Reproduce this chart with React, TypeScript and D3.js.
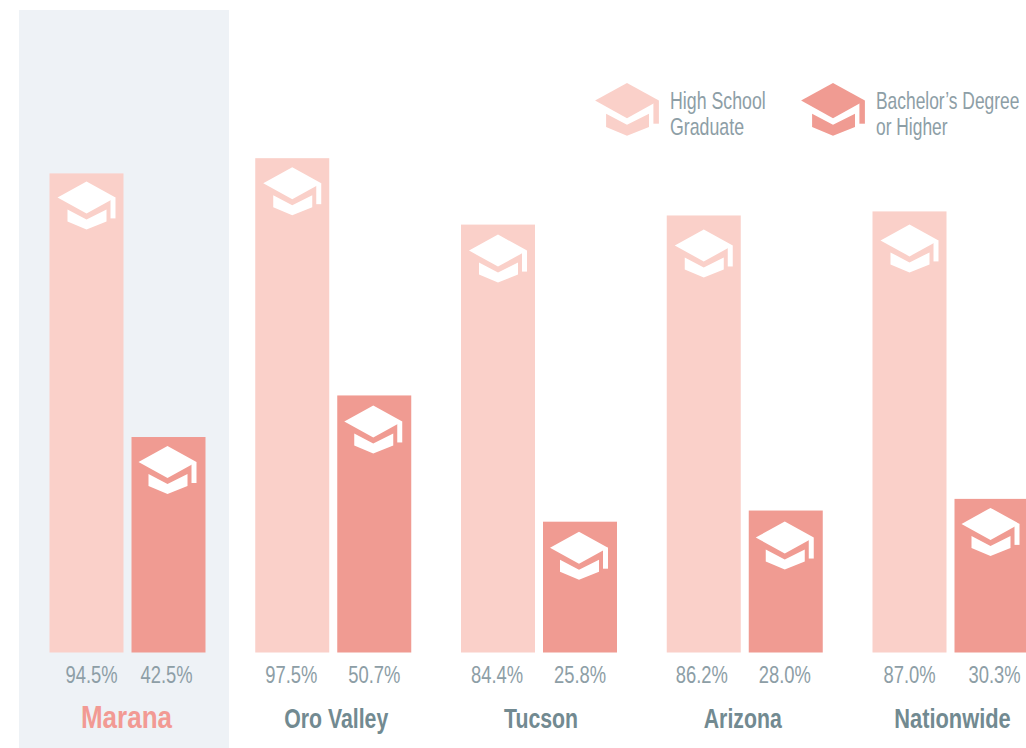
import React from "react";
import * as d3 from "d3";

const places = ["Marana", "Oro Valley", "Tucson", "Arizona", "Nationwide"];
const highSchool = [94.5, 97.5, 84.4, 86.2, 87.0];
const bachelors = [42.5, 50.7, 25.8, 28.0, 30.3];
const legendLines = [["High School", "Graduate"], ["Bachelor\u2019s Degree", "or Higher"]];

const LIGHT = "#fad0c9";
const DARK = "#f09b92";
const TEXT = "#8d9ea6";
const NAME = "#728a91";
const FONT = "'Liberation Sans', sans-serif";

const y = d3.scaleLinear().domain([0, 100]).range([652.5, 145.5]);
const x = d3.scalePoint<string>().domain(places).range([49.5, 872.5]);
const barW = 74;
const gap = 82;

// hand placement of the icons and labels, per group
const hatDropLight = [8, 9, 10, 14, 13];
const hatDropDark = [9, 10, 10, 11, 9];
const valueNudgeLight = [5, -1, -1, -2, 0];
const valueNudgeDark = [-2, 0, 0, -1, 3];
const nameNudge = [77, 81, 80, 76, 80];
const nameSize = [31, 28, 28, 28, 28];
const nameStretch = [0.84, 0.76, 0.76, 0.76, 0.78];

const hatPath = "M0,0 L29,16 L0,32 L-29,16 Z";
const hatLower = "M-19,28 L0,38 L20,28 L20,40 L0,48 L-19,40 Z";
const tassel = "M24,16 L29,16 L29,37 L24,37 Z";

function Hat({ cx, top, scale = 1, fill = "#fff" }: { cx: number; top: number; scale?: number; fill?: string }) {
  return (
    <g transform={`translate(${cx},${top}) scale(${scale})`} fill={fill}>
      <path d={hatPath} />
      <path d={hatLower} />
      <path d={tassel} />
    </g>
  );
}

function Narrow({ x, y, sx, anchor = "middle", size, fill, bold, children }: any) {
  return (
    <text
      transform={`translate(${x},${y}) scale(${sx},1)`}
      textAnchor={anchor}
      fontSize={size}
      fontWeight={bold ? "bold" : "normal"}
      fill={fill}
    >
      {children}
    </text>
  );
}

export default function App() {
  return (
    <svg width={1026} height={748} style={{ position: "fixed", left: 0, top: 0 }} fontFamily={FONT}>
      <rect width={1026} height={748} fill="#fff" />
      <rect x={19} y={10} width={210} height={738} fill="#eef2f6" />
      {places.map((p, i) => {
        const x0 = x(p)!;
        const x1 = x0 + gap;
        return (
          <g key={p}>
            <rect x={x0} y={y(highSchool[i])} width={barW} height={y(0) - y(highSchool[i])} fill={LIGHT} />
            <rect x={x1} y={y(bachelors[i])} width={barW} height={y(0) - y(bachelors[i])} fill={DARK} />
            <Hat cx={x0 + barW / 2} top={y(highSchool[i]) + hatDropLight[i]} />
            <Hat cx={x1 + barW / 2 - 1} top={y(bachelors[i]) + hatDropDark[i]} />
            <Narrow x={x0 + barW / 2 + valueNudgeLight[i]} y={683} sx={0.8} size={23} fill={TEXT}>{highSchool[i].toFixed(1)}%</Narrow>
            <Narrow x={x1 + barW / 2 + valueNudgeDark[i]} y={683} sx={0.8} size={23} fill={TEXT}>{bachelors[i].toFixed(1)}%</Narrow>
            <Narrow x={x0 + nameNudge[i]} y={728} sx={nameStretch[i]} size={nameSize[i]} bold fill={i === 0 ? "#f29a94" : NAME}>{p}</Narrow>
          </g>
        );
      })}
      <Hat cx={627} top={83} scale={1.1} fill={LIGHT} />
      <Hat cx={833} top={83} scale={1.1} fill={DARK} />
      {legendLines.map((lines, i) =>
        lines.map((l, j) => (
          <Narrow key={l} x={i === 0 ? 670 : 876} y={109 + j * 26} sx={i === 0 ? 0.74 : 0.725} anchor="start" size={24} fill={TEXT}>{l}</Narrow>
        ))
      )}
    </svg>
  );
}
